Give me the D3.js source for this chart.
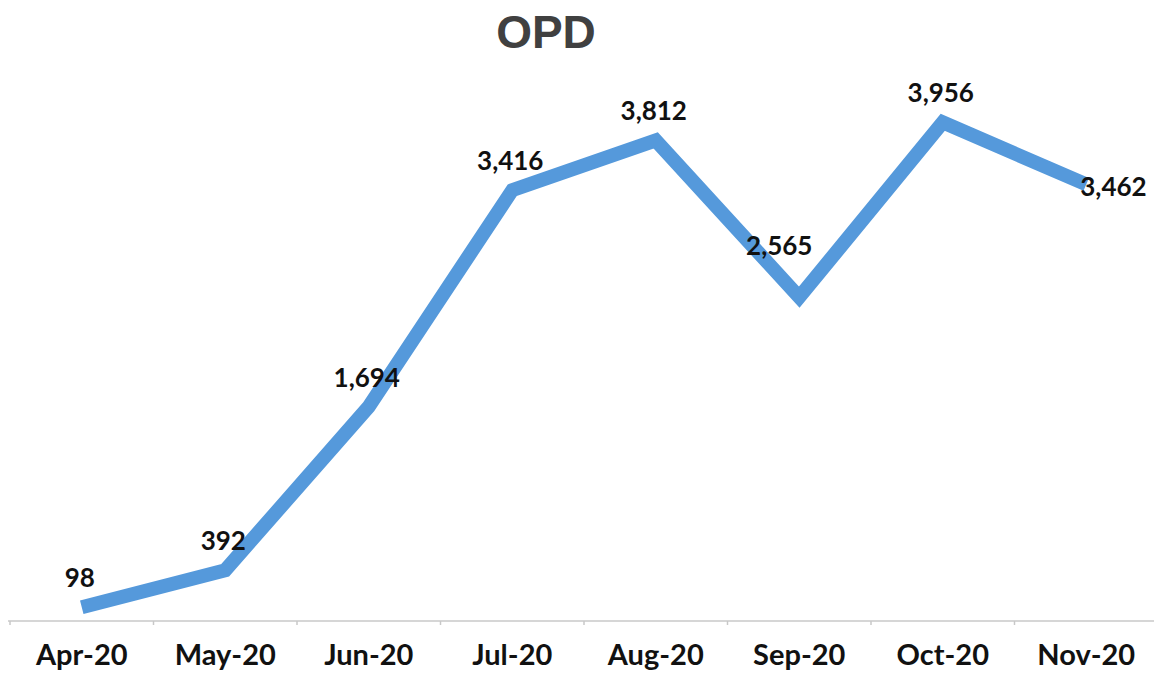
<!DOCTYPE html>
<html>
<head>
<meta charset="utf-8">
<script src="https://cdn.jsdelivr.net/npm/d3@7"></script>
<style>
  body { margin: 0; background: #fff; }
  svg { display: block; }
</style>
</head>
<body>
<svg id="chart" width="1154" height="677"></svg>
<script>
const months = ["Apr-20", "May-20", "Jun-20", "Jul-20", "Aug-20", "Sep-20", "Oct-20", "Nov-20"];
const opd = [98, 392, 1694, 3416, 3812, 2565, 3956, 3462];
const title = "OPD";

// where each value label sits relative to its point
const labelSpot = ["top", "top", "top", "top", "top", "topleft", "top", "right"];

const width = 1154;
const height = 677;
const margin = { top: 54, right: 0, bottom: 56, left: 10 };

const svg = d3.select("#chart");

const x = d3
  .scaleBand()
  .domain(months)
  .range([margin.left, width + 4])
  .padding(0);

const y = d3
  .scaleLinear()
  .domain([0, 4500])
  .range([height - margin.bottom - 1.5, margin.top]);

const axisY = 621;

svg
  .append("text")
  .attr("x", 546)
  .attr("y", 48)
  .attr("text-anchor", "middle")
  .attr("font-family", "Liberation Sans, Arial, sans-serif")
  .attr("font-weight", "bold")
  .attr("font-size", 46)
  .attr("fill", "#404040")
  .text(title);

// x axis
const axisG = svg.append("g").attr("transform", `translate(0,${axisY})`);
axisG
  .append("line")
  .attr("x1", 8)
  .attr("x2", width)
  .attr("stroke", "#c8c8c8")
  .attr("stroke-width", 1.5);

axisG
  .selectAll(".tick")
  .data(months)
  .join("line")
  .attr("class", "tick")
  .attr("x1", (d) => x(d))
  .attr("x2", (d) => x(d))
  .attr("y1", 0)
  .attr("y2", 4)
  .attr("stroke", "#c8c8c8")
  .attr("stroke-width", 1.5);

axisG
  .selectAll(".lbl")
  .data(months)
  .join("text")
  .attr("class", "lbl")
  .attr("x", (d) => x(d) + x.bandwidth() / 2)
  .attr("y", 44)
  .attr("text-anchor", "middle")
  .attr("font-family", "Lato, sans-serif")
  .attr("font-weight", "bold")
  .attr("font-size", 29)
  .attr("fill", "#111")
  .text((d) => d);

const cx = (i) => x(months[i]) + x.bandwidth() / 2;

const line = d3
  .line()
  .x((d, i) => cx(i))
  .y((d) => y(d));

svg
  .append("path")
  .datum(opd)
  .attr("d", line)
  .attr("fill", "none")
  .attr("stroke", "#5599db")
  .attr("stroke-width", 14)
  .attr("stroke-linejoin", "miter");

const fmt = d3.format(",");

svg
  .selectAll(".val")
  .data(opd)
  .join("text")
  .attr("class", "val")
  .attr("x", (d, i) => {
    if (labelSpot[i] === "right") return cx(i) - 6;
    if (labelSpot[i] === "topleft") return cx(i) - 20;
    return cx(i) - 2;
  })
  .attr("y", (d, i) => {
    if (labelSpot[i] === "right") return y(d) + 12;
    if (labelSpot[i] === "topleft") return y(d) - 42;
    return y(d) - 20;
  })
  .attr("text-anchor", (d, i) => (labelSpot[i] === "right" ? "start" : "middle"))
  .attr("font-family", "Lato, sans-serif")
  .attr("font-weight", "bold")
  .attr("font-size", 26)
  .attr("fill", "#111")
  .text((d) => fmt(d));
</script>
</body>
</html>
